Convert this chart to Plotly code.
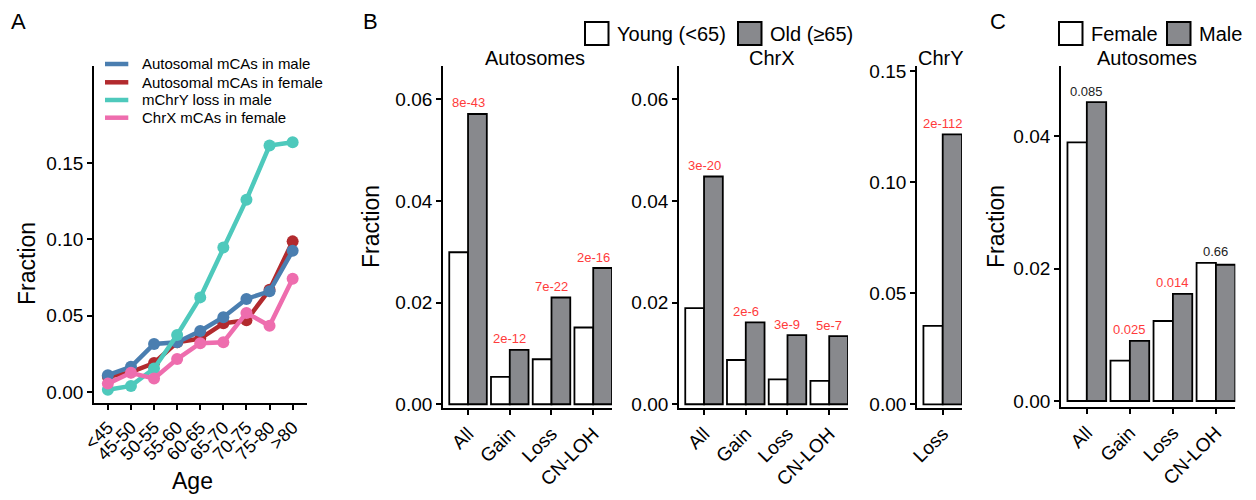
import plotly.graph_objects as go

W, H = 1256, 500
OFF = 8  # default page body margin in the browser
FONT = "Liberation Sans, Arial, sans-serif"

# ---------------- data ----------------
age_groups = ["<45", "45-50", "50-55", "55-60", "60-65", "65-70", "70-75", "75-80", ">80"]
auto_male = [0.011, 0.0165, 0.0315, 0.0326, 0.040, 0.049, 0.061, 0.066, 0.0925]
auto_female = [0.010, 0.013, 0.019, 0.0326, 0.035, 0.045, 0.047, 0.067, 0.0987]
chry_loss_male = [0.0015, 0.004, 0.0154, 0.0374, 0.062, 0.0947, 0.126, 0.1615, 0.1637]
chrx_female = [0.0055, 0.0126, 0.0088, 0.0216, 0.032, 0.0326, 0.0518, 0.0434, 0.0742]
age_yticks = [0.00, 0.05, 0.10, 0.15]

event_types = ["All", "Gain", "Loss", "CN-LOH"]
auto_young = [0.0299, 0.0054, 0.00885, 0.0151]
auto_old = [0.0571, 0.0107, 0.0210, 0.0268]
auto_p = ["8e-43", "2e-12", "7e-22", "2e-16"]

chrx_young = [0.0189, 0.0087, 0.0049, 0.0046]
chrx_old = [0.0448, 0.0161, 0.0136, 0.0134]
chrx_p = ["3e-20", "2e-6", "3e-9", "5e-7"]

chry_types = ["Loss"]
chry_young = [0.0353]
chry_old = [0.1216]
chry_p = ["2e-112"]

sex_female = [0.0391, 0.0061, 0.0121, 0.0209]
sex_male = [0.0452, 0.0091, 0.0162, 0.0206]
sex_p = ["0.085", "0.025", "0.014", "0.66"]

# ---------------- helpers ----------------
def px(x):
    return (x - OFF) / W

def py(y):
    return 1 - (y - OFF) / H

WHITE = "white"
GRAY = "#88898D"
RED_TXT = "#FF3B3B"

fig = go.Figure()

# Panel A lines (draw order: red, blue, teal, pink)
line_series = [
    ("Autosomal mCAs in female", auto_female, "#B22A2E"),
    ("Autosomal mCAs in male", auto_male, "#4A7EB0"),
    ("mChrY loss in male", chry_loss_male, "#4EC9BC"),
    ("ChrX mCAs in female", chrx_female, "#EE6DAE"),
]
for name, vals, col in line_series:
    fig.add_trace(go.Scatter(
        x=age_groups, y=vals, mode="lines+markers", name=name,
        line=dict(color=col, width=4.5), marker=dict(color=col, size=12),
        xaxis="x", yaxis="y", showlegend=False))

def add_bars(cats, a, b, xa, ya, names):
    for vals, fill, nm in ((a, WHITE, names[0]), (b, GRAY, names[1])):
        fig.add_trace(go.Bar(
            x=cats, y=vals, name=nm, marker=dict(color=fill, line=dict(color="black", width=1.8)),
            xaxis=xa, yaxis=ya, showlegend=False))

add_bars(event_types, auto_young, auto_old, "x2", "y2", ("Young (<65)", "Old (≥65)"))
add_bars(event_types, chrx_young, chrx_old, "x3", "y3", ("Young (<65)", "Old (≥65)"))
add_bars(chry_types, chry_young, chry_old, "x4", "y4", ("Young (<65)", "Old (≥65)"))
add_bars(event_types, sex_female, sex_male, "x5", "y5", ("Female", "Male"))

annotations = []

def p_annots(cats, a, b, labels, xa, ya):
    for c, va, vb, lab in zip(cats, a, b, labels):
        col = RED_TXT if float(lab) < 0.05 else "#222222"
        annotations.append(dict(
            x=c, y=max(va, vb), xref=xa, yref=ya, text=lab, showarrow=False,
            yanchor="middle", yshift=11, font=dict(size=13, color=col, family=FONT)))

p_annots(event_types, auto_young, auto_old, auto_p, "x2", "y2")
p_annots(event_types, chrx_young, chrx_old, chrx_p, "x3", "y3")
p_annots(chry_types, chry_young, chry_old, chry_p, "x4", "y4")
p_annots(event_types, sex_female, sex_male, sex_p, "x5", "y5")

def txt(x, y, s, size, angle=0, xanchor="center", color="black"):
    annotations.append(dict(
        x=px(x), y=py(y), xref="paper", yref="paper", text=s, showarrow=False,
        textangle=angle, xanchor=xanchor, yanchor="middle",
        font=dict(size=size, color=color, family=FONT)))

# panel letters
txt(18.5, 21, "A", 22)
txt(370, 21, "B", 22)
txt(997.5, 21, "C", 22)

# axis titles
txt(27, 264, "Fraction", 23, angle=-90)
txt(192.5, 481, "Age", 23)
txt(371, 227, "Fraction", 23, angle=-90)
txt(996, 227, "Fraction", 23, angle=-90)

# facet titles
txt(534.5, 58, "Autosomes", 20)
txt(771.7, 58, "ChrX", 20)
txt(941, 58, "ChrY", 20)
txt(1147, 58, "Autosomes", 20)

shapes = []

# Panel A legend (manual)
leg_y = [64, 82.3, 100, 117.7]
leg_order = [line_series[1], line_series[0], line_series[2], line_series[3]]
for (name, _, col), yy in zip(leg_order, leg_y):
    shapes.append(dict(type="line", xref="paper", yref="paper",
                       x0=px(105), x1=px(128.3), y0=py(yy), y1=py(yy),
                       line=dict(color=col, width=4.5)))
    txt(140, yy, name, 15, xanchor="left")

# Panel B and C legends (manual boxes)
def box_leg(x0, label, fill):
    shapes.append(dict(type="rect", xref="paper", yref="paper",
                       x0=px(x0), x1=px(x0 + 23.5), y0=py(45), y1=py(22),
                       fillcolor=fill, line=dict(color="black", width=2)))
    txt(x0 + 30, 33.5, label, 20, xanchor="left")

box_leg(585, "Young (<65)", WHITE)
box_leg(738, "Old (≥65)", GRAY)
box_leg(1059, "Female", WHITE)
box_leg(1167, "Male", GRAY)

axis_common = dict(showline=True, linecolor="black", linewidth=1.8, showgrid=False,
                   zeroline=False, ticks="outside", ticklen=5, tickwidth=1.5,
                   tickcolor="black", automargin=False,
                   tickfont=dict(size=19, color="black", family=FONT))

def xax(d0, d1, anchor, rng, size=19):
    a = dict(axis_common)
    a.update(domain=[px(d0), px(d1)], anchor=anchor, range=rng, tickangle=-45,
             type="category", tickfont=dict(size=size, color="black", family=FONT))
    return a

def yax(b, t, anchor, rng, dtick, tickvals=None):
    a = dict(axis_common)
    a.update(domain=[py(b), py(t)], anchor=anchor, range=rng, dtick=dtick,
             tick0=0, tickformat=".2f")
    if tickvals is not None:
        a.update(tickmode="array", tickvals=tickvals)
    return a

fig.update_layout(
    template="none",
    width=W, height=H, margin=dict(l=0, r=0, t=0, b=0, pad=0), autosize=False,
    paper_bgcolor="white", plot_bgcolor="white",
    font=dict(family=FONT, color="black"),
    barmode="group", bargap=0.1, bargroupgap=0.0,
    xaxis=xax(94, 306.5, "y", [-0.6, 8.6], size=18),
    yaxis=yax(403, 65.7, "x", [-0.0072, 0.2138], 0.05, tickvals=age_yticks),
    xaxis2=xax(443, 612, "y2", [-0.6, 3.45]),
    yaxis2=yax(408.3, 65.7, "x2", [-0.0008, 0.0666], 0.02),
    xaxis3=xax(679, 848, "y3", [-0.6, 3.45]),
    yaxis3=yax(408.3, 65.7, "x3", [-0.0008, 0.0666], 0.02),
    xaxis4=xax(917, 962, "y4", [-0.6, 0.45]),
    yaxis4=yax(408.3, 65.7, "x4", [-0.0018, 0.1525], 0.05),
    xaxis5=xax(1061, 1235.3, "y5", [-0.6, 3.45]),
    yaxis5=yax(407.3, 65.7, "x5", [-0.00095, 0.0507], 0.02),
    annotations=annotations, shapes=shapes,
)

fig.write_html("out.html")
